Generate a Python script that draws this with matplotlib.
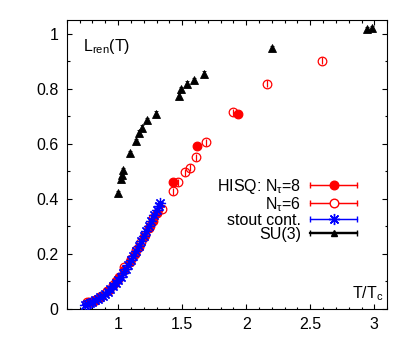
import matplotlib
matplotlib.use("Agg")
import matplotlib.pyplot as plt
from matplotlib.ticker import MultipleLocator
from matplotlib.container import ErrorbarContainer
from matplotlib.legend_handler import HandlerErrorbar

plt.rcParams['font.family'] = ['Liberation Sans', 'DejaVu Sans']
plt.rcParams['mathtext.fontset'] = 'custom'
plt.rcParams['mathtext.rm'] = 'Liberation Sans'
plt.rcParams['mathtext.it'] = 'Liberation Sans'
plt.rcParams['mathtext.default'] = 'regular'

# HISQ Nt=8 (filled red circles)
hisq8_T = [0.77, 0.82, 0.87, 0.93, 0.98, 1.01, 1.05, 1.09, 1.13, 1.16, 1.20, 1.24, 1.27, 1.30,
           1.428, 1.615, 1.934]
hisq8_L = [0.027, 0.033, 0.048, 0.070, 0.100, 0.117, 0.140, 0.170, 0.200, 0.225, 0.260, 0.295, 0.320, 0.350,
           0.460, 0.594, 0.710]
hisq8_err = [0.005, 0.005, 0.005, 0.005, 0.006, 0.006, 0.007, 0.007, 0.008, 0.008, 0.008, 0.009, 0.009, 0.009,
             0.010, 0.010, 0.010]

# HISQ Nt=6 (open red circles)
hisq6_T = [0.76, 0.81, 0.86, 0.91, 0.96, 1.00, 1.047, 1.10, 1.14, 1.18, 1.21, 1.25, 1.27, 1.34,
           1.43, 1.467, 1.52, 1.56, 1.607, 1.685, 1.90, 2.16, 2.59]
hisq6_L = [0.025, 0.030, 0.045, 0.065, 0.088, 0.110, 0.152, 0.180, 0.215, 0.245, 0.270, 0.300, 0.330, 0.365,
           0.428, 0.460, 0.496, 0.514, 0.551, 0.605, 0.714, 0.819, 0.902]
hisq6_err = [0.005, 0.005, 0.005, 0.006, 0.006, 0.007, 0.008, 0.008, 0.009, 0.009, 0.009, 0.010, 0.010, 0.012,
             0.012, 0.012, 0.012, 0.012, 0.012, 0.012, 0.012, 0.012, 0.012]

# stout continuum (blue stars)
stout_T = [0.74, 0.76, 0.78, 0.80, 0.82, 0.84, 0.86, 0.88, 0.90, 0.92, 0.94, 0.96, 0.98, 1.00, 1.02,
           1.04, 1.06, 1.08, 1.10, 1.12, 1.14, 1.16, 1.18, 1.20, 1.22, 1.24, 1.26, 1.28, 1.30, 1.32, 1.33]
stout_L = [0.015, 0.018, 0.022, 0.026, 0.031, 0.036, 0.042, 0.048, 0.055, 0.063, 0.072, 0.082, 0.093, 0.105, 0.118,
           0.131, 0.146, 0.161, 0.177, 0.193, 0.210, 0.228, 0.246, 0.264, 0.283, 0.302, 0.321, 0.340, 0.358, 0.376, 0.385]
stout_err = [0.004] * 31

# SU(3) pure gauge (black triangles)
su3_T = [1.00, 1.023, 1.031, 1.039, 1.093, 1.14, 1.163, 1.187, 1.226, 1.296,
         1.475, 1.49, 1.537, 1.59, 1.67, 2.20, 2.94, 2.98]
su3_L = [0.420, 0.471, 0.486, 0.504, 0.565, 0.609, 0.641, 0.659, 0.685, 0.710,
         0.775, 0.800, 0.819, 0.833, 0.855, 0.949, 1.018, 1.022]
su3_err = [0.008] * 18

FS = 11.5
fig = plt.figure(figsize=(4.15, 3.42), dpi=100)
ax = fig.add_axes([0.161, 0.0965, 0.772, 0.845])

ms = 6.2
ax.errorbar(hisq6_T, hisq6_L, yerr=hisq6_err, fmt='o', mfc='none', mec='red', ecolor='red',
            ms=ms, mew=0.9, elinewidth=0.9, capsize=0, zorder=2)
ax.errorbar(hisq8_T, hisq8_L, yerr=hisq8_err, fmt='o', mfc='red', mec='red', ecolor='red',
            ms=ms, mew=0.9, elinewidth=0.9, capsize=0, zorder=2)
ax.errorbar(stout_T, stout_L, yerr=stout_err, fmt='none', ecolor='blue', elinewidth=0.9, zorder=3)
ax.plot(stout_T, stout_L, linestyle='none', marker=(8, 2, 0), color='blue', ms=8, mew=0.9, zorder=3)
ax.errorbar(su3_T, su3_L, yerr=su3_err, fmt='^', color='black', ms=ms, mew=0.6,
            elinewidth=0.9, capsize=1.5, zorder=4)

# legend proxies
nan = float('nan')
h8 = ax.errorbar([nan], [nan], xerr=[1], fmt='o-', color='red', mfc='red', ms=ms, lw=0.9,
                 capsize=2.5, label='HISQ: N$_τ$=8')
h6 = ax.errorbar([nan], [nan], xerr=[1], fmt='o-', color='red', mfc='white', ms=ms, lw=0.9,
                 capsize=2.5, label='N$_τ$=6')
hs = ax.errorbar([nan], [nan], xerr=[1], fmt='-', marker=(8, 2, 0), color='blue', ms=8, lw=0.9,
                 capsize=2.5, label='stout cont.')
hk = ax.errorbar([nan], [nan], xerr=[1], fmt='^-', color='black', ms=ms * 0.8, lw=1.6,
                 capsize=2.5, label='SU(3)')
leg = ax.legend(handles=[h8, h6, hs, hk], loc='upper right', bbox_to_anchor=(0.906, 0.457),
                frameon=False, markerfirst=False, fontsize=FS, handlelength=2.94,
                handletextpad=0.55, labelspacing=-0.06, borderaxespad=0, borderpad=0,
                handler_map={ErrorbarContainer: HandlerErrorbar(xerr_size=1.47)})

ax.text(0.05, 0.893, 'L$_{ren}$(T)', transform=ax.transAxes, fontsize=FS, ha='left', va='baseline')
ax.text(0.9875, 0.038, 'T/T$_c$', transform=ax.transAxes, fontsize=FS, ha='right', va='baseline')

ax.set_xlim(0.6, 3.1)
ax.set_ylim(0, 1.05)
ax.xaxis.set_minor_locator(MultipleLocator(0.1))
ax.yaxis.set_minor_locator(MultipleLocator(0.1))
ax.set_xticks([1, 1.5, 2, 2.5, 3])
ax.set_xticklabels(['1', '1.5', '2', '2.5', '3'])
ax.set_yticks([0, 0.2, 0.4, 0.6, 0.8, 1.0])
ax.set_yticklabels(['0', '0.2', '0.4', '0.6', '0.8', '1'])
ax.tick_params(which='both', direction='in', top=True, right=True, labelsize=FS, width=0.8)
ax.tick_params(which='major', length=3.5, pad=6)
ax.tick_params(which='minor', length=1.8)
for s in ax.spines.values():
    s.set_linewidth(0.8)

fig.savefig('out.png', dpi=100)
